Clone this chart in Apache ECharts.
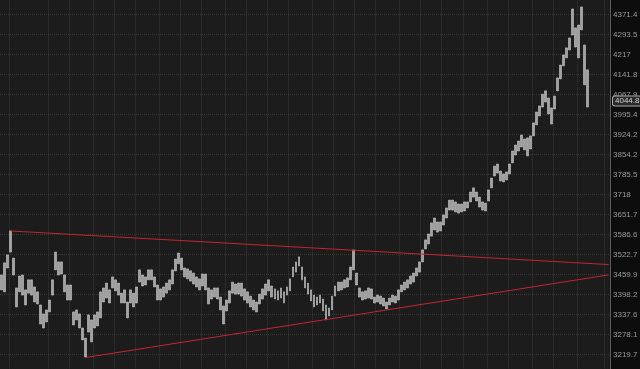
<!DOCTYPE html>
<html><head><meta charset="utf-8">
<script src="https://cdn.jsdelivr.net/npm/echarts@6/dist/echarts.min.js"></script>
<style>html,body{margin:0;padding:0;background:#0d0d0d;}#c{width:640px;height:369px;}</style>
</head><body><div id="c"></div>
<script>
// Right-axis tick labels (log-spaced)
const tickLabels = [3219.7, 3278.1, 3337.6, 3398.2, 3459.9, 3522.7, 3586.6, 3651.7, 3718, 3785.5, 3854.2, 3924.2, 3995.4, 4067.9, 4141.8, 4217, 4293.5, 4371.4];

// Bar highs and lows
const highs = [3459,3497,3522,3599,3512,3419,3456,3459,3413,3444,3444,3422,3407,3367,3340,3352,3382,3444,3531,3500,
3500,3459,3428,3428,3346,3352,3340,3298,3268,3337,3322,3337,3346,3407,3419,3434,3413,3453,3444,3434,
3403,3413,3376,3413,3403,3422,3475,3459,3453,3475,3475,3453,3428,3416,3422,3434,3444,3475,3509,3528,
3512,3481,3478,3472,3465,3453,3447,3462,3462,3419,3413,3419,3419,3391,3364,3382,3410,3437,3431,3434,
3434,3416,3407,3394,3382,3376,3400,3416,3431,3444,3425,3416,3410,3419,3407,3422,3447,3484,3500,3516,
3484,3453,3434,3413,3397,3391,3397,3385,3367,3358,3394,3425,3437,3437,3444,3450,3484,3538,3465,3419,
3407,3410,3419,3416,3391,3397,3394,3388,3376,3388,3397,3394,3413,3428,3437,3444,3456,3465,3481,3500,
3538,3570,3589,3625,3641,3628,3628,3651,3674,3700,3700,3694,3687,3687,3694,3694,3727,3741,3727,3710,
3694,3690,3734,3774,3815,3822,3798,3788,3795,3822,3867,3888,3902,3923,3909,3913,3920,3966,4005,4027,
4070,4082,4056,4020,4063,4130,4178,4216,4243,4281,4394,4320,4331,4402,4254,4160];
const lows = [3413,3407,3481,3531,3459,3361,3407,3397,3367,3403,3397,3376,3370,3310,3298,3316,3346,3397,3475,3459,
3462,3407,3382,3382,3307,3322,3298,3263,3213,3286,3257,3298,3304,3328,3376,3388,3373,3419,3410,3397,
3373,3373,3328,3373,3361,3373,3437,3425,3428,3444,3444,3422,3382,3382,3391,3403,3413,3431,3472,3494,
3475,3453,3447,3440,3431,3422,3413,3425,3413,3370,3385,3391,3385,3352,3310,3349,3373,3403,3400,3400,
3394,3382,3373,3361,3352,3346,3370,3385,3397,3410,3391,3385,3382,3388,3373,3397,3410,3453,3468,3487,
3444,3419,3400,3379,3361,3367,3373,3349,3322,3334,3352,3394,3410,3413,3419,3422,3444,3475,3428,3391,
3382,3385,3388,3385,3373,3376,3370,3364,3355,3367,3376,3373,3382,3407,3413,3419,3431,3437,3456,3468,
3500,3541,3557,3582,3602,3595,3599,3618,3641,3667,3667,3661,3657,3661,3664,3674,3694,3710,3697,3677,
3667,3664,3697,3741,3781,3791,3764,3761,3768,3788,3826,3853,3867,3881,3871,3850,3874,3920,3959,3991,
4023,4041,3998,3962,4016,4082,4126,4175,4205,4235,4292,4246,4205,4312,4104,4023];
const lastClose = 4044.8;

// Trend line anchors: [bar index, price]
const upperTrend = [[3, 3598.6], [202, 3491.6]];
const lowerTrend = [[28, 3211.5], [202, 3459.3]];

// Bars where a new month begins (vertical grid)
const monthStarts = [3,16,23,31,38,45,53,60,67,75,82,89,96,104,111,118,125,133,140,147,154,162,169,177,184,192,201];
const slotCount = 203;

const base = tickLabels[0];
const ratio = Math.pow(tickLabels[tickLabels.length - 1] / base, 1 / (tickLabels.length - 1));
const toStep = p => Math.log(p / base) / Math.log(ratio);
const categories = Array.from({length: slotCount}, (_, i) => String(i));
const candles = highs.map((h, i) => [toStep(lows[i]), toStep(h), toStep(lows[i]), toStep(h)]);

const chart = echarts.init(document.getElementById('c'), null, {renderer: 'canvas'});
const red = '#c0272d';
const barColor = '#a2a2a2';
const edgeColor = '#c8c8c8';
chart.setOption({
  animation: false,
  backgroundColor: '#0d0d0d',
  grid: {left: 0, right: 30, top: -5.3, bottom: -5.7, outerBoundsMode: 'none', containLabel: false,
    show: true, backgroundColor: '#1c1c1c', borderWidth: 0},
  xAxis: {
    type: 'category', data: categories, boundaryGap: true,
    axisLine: {show: false}, axisTick: {show: false}, axisLabel: {show: false},
    splitLine: {show: true, interval: (idx) => monthStarts.indexOf(idx) >= 0,
      lineStyle: {color: '#383838', type: 'dotted', width: 1}}
  },
  yAxis: {
    type: 'value', position: 'right', min: -1, max: 18, interval: 1, scale: false,
    axisLine: {show: true, lineStyle: {color: '#5a5a5a'}},
    axisTick: {show: false},
    axisLabel: {
      color: '#9a9a9a', fontSize: 8, fontFamily: 'Liberation Sans', margin: 3,
      formatter: v => {
        const k = Math.round(v);
        return (Math.abs(v - k) < 1e-6 && k >= 0 && k < tickLabels.length) ? String(tickLabels[k]) : '';
      }
    },
    splitLine: {show: true, lineStyle: {color: '#383838', type: 'dotted', width: 1}}
  },
  series: [{
    type: 'candlestick',
    data: candles,
    barWidth: 2.4,
    itemStyle: {color: barColor, color0: barColor, borderColor: edgeColor, borderColor0: edgeColor, borderWidth: 0.6},
    markLine: {
      silent: true, symbol: ['none', 'none'], animation: false,
      data: [
        [{coord: [upperTrend[0][0], toStep(upperTrend[0][1])], lineStyle: {color: red, width: 1, type: 'solid'}, label: {show: false}},
         {coord: [upperTrend[1][0], toStep(upperTrend[1][1])]}],
        [{coord: [lowerTrend[0][0], toStep(lowerTrend[0][1])], lineStyle: {color: red, width: 1, type: 'solid'}, label: {show: false}},
         {coord: [lowerTrend[1][0], toStep(lowerTrend[1][1])]}],
        {yAxis: toStep(lastClose), lineStyle: {color: 'rgba(0,0,0,0)', width: 0},
         label: {show: true, position: 'end', distance: 3, formatter: lastClose.toFixed(1),
           color: '#cfcfcf', fontSize: 8, fontFamily: 'Liberation Sans',
           backgroundColor: '#2a2a2a', borderColor: '#a8a8a8', borderWidth: 1, borderRadius: 2, padding: [1, 2, 0, 2]}}
      ]
    }
  }]
});
</script>
</body></html>
